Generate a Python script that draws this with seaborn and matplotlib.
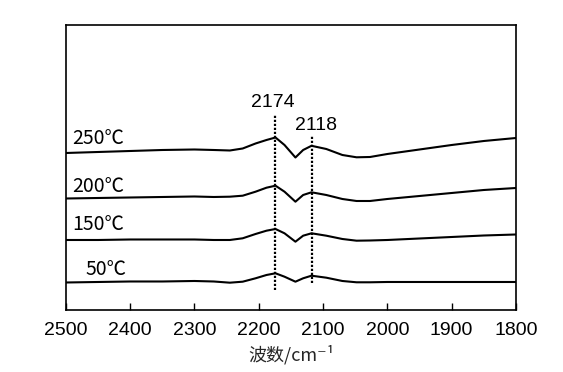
import matplotlib
matplotlib.use("Agg")
import matplotlib.pyplot as plt
import seaborn as sns
import pandas as pd

sns.set_theme(style="white")
plt.rcParams['font.family'] = ['Liberation Sans', 'Noto Sans CJK SC', 'DejaVu Sans']

wavenumber = [2500, 2450, 2400, 2350, 2300, 2270, 2245, 2225, 2205, 2188, 2174, 2160,
              2143, 2131, 2118, 2095, 2070, 2048, 2027, 2000, 1950, 1900, 1850, 1800]
abs_250 = [157, 158, 159, 160, 160.5, 160, 159.5, 161.5, 166.5, 170, 172.5, 165,
           152.5, 160, 164.2, 161, 155, 152.7, 153, 156, 160.5, 165, 169, 172]
abs_200 = [111.5, 112, 112.5, 113, 113.5, 113, 113.3, 114.3, 118.3, 122.3, 124.3, 118.3,
           108.3, 115, 117.7, 115, 111, 109, 109, 111, 114, 117, 120, 122]
abs_150 = [70, 70, 70.5, 70.5, 70.5, 70, 70, 71.7, 76, 79.3, 81, 76.7,
           68.3, 74.3, 76.7, 74.3, 71, 69.3, 69.5, 70, 71.5, 73, 74.5, 75.5]
abs_50 = [27.5, 28, 28.5, 28.5, 29, 28.5, 27.3, 28.3, 31.7, 35, 36.7, 33.3,
          28.3, 31.7, 34.3, 32.3, 29, 27.7, 27.7, 28, 28, 28, 28, 28]

series_labels = ["250℃", "200℃", "150℃", "50℃"]
label_x = [2490, 2490, 2490, 2470]
label_y = [171, 123.5, 85, 40]

peak_positions = [2174, 2118]
peak_labels = ["2174", "2118"]
peak_line_top = [195, 175]
peak_line_bottom = [20, 27]
peak_text_x = [2178, 2111]
peak_text_y = [207, 184]

x_ticks = [2500, 2400, 2300, 2200, 2100, 2000, 1900, 1800]

rows = []
for name, vals in zip(series_labels, [abs_250, abs_200, abs_150, abs_50]):
    for w, v in zip(wavenumber, vals):
        rows.append({"wn": w, "a": v, "T": name})
df = pd.DataFrame(rows)

fig = plt.figure(figsize=(5.63, 3.72), dpi=100)
ax = fig.add_axes([0.117, 0.1667, 0.7995, 0.7661])

sns.lineplot(data=df, x="wn", y="a", units="T", estimator=None, color="black",
             linewidth=1.5, ax=ax, legend=False)

for p, top, bot in zip(peak_positions, peak_line_top, peak_line_bottom):
    ax.plot([p, p], [bot, top], color="black", linestyle=(0, (1, 0.8)), linewidth=1.6)

for t, x, y in zip(peak_labels, peak_text_x, peak_text_y):
    ax.text(x, y, t, ha="center", va="center", fontsize=14, color="black")

for t, x, y in zip(series_labels, label_x, label_y):
    ax.text(x, y, t, ha="left", va="center", fontsize=14, color="black",
            family=['Noto Sans CJK SC', 'DejaVu Sans'])

ax.set_xlim(2500, 1800)
ax.set_ylim(0, 285)
ax.set_xticks(x_ticks)
ax.set_xticklabels([str(t) for t in x_ticks], fontsize=14)
ax.set_yticks([])
ax.tick_params(axis="x", direction="in", length=5, width=1, bottom=True, pad=9, colors="black")
for s in ax.spines.values():
    s.set_color("black")
    s.set_linewidth(1.2)
ax.set_xlabel("波数/cm⁻¹", fontsize=13, labelpad=4,
              family=['Noto Sans CJK SC', 'Liberation Sans', 'DejaVu Sans'])
ax.set_ylabel("")

fig.savefig("out.png", dpi=100)
